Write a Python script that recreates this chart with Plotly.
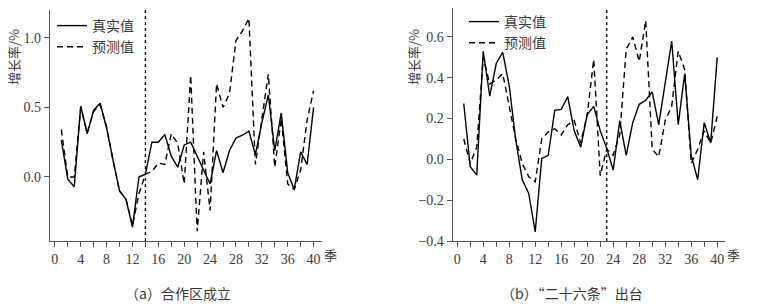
import plotly.graph_objects as go

quarters = list(range(1, 41))

true_a = [0.265, -0.015, -0.07, 0.51, 0.31, 0.48, 0.53, 0.35, 0.12, -0.10,
          -0.16, -0.36, 0.0, 0.02, 0.25, 0.25, 0.305, 0.15, 0.07, 0.23,
          0.25, 0.15, 0.05, -0.05, 0.19, 0.03, 0.19, 0.28, 0.30, 0.33,
          0.16, 0.39, 0.59, 0.19, 0.46, 0.03, -0.09, 0.18, 0.09, 0.50]
pred_a = [0.34, 0.0, 0.0, 0.50, 0.32, 0.47, 0.52, 0.36, 0.12, -0.10,
          -0.16, -0.35, -0.12, 0.02, 0.04, 0.10, 0.09, 0.31, 0.24, -0.05,
          0.73, -0.39, 0.18, -0.24, 0.67, 0.50, 0.60, 0.98, 1.05, 1.14,
          0.09, 0.41, 0.74, 0.07, 0.42, -0.05, -0.09, 0.05, 0.41, 0.62]

true_b = [0.274, -0.036, -0.077, 0.53, 0.31, 0.47, 0.525, 0.36, 0.095, -0.10,
          -0.167, -0.355, 0.005, 0.02, 0.24, 0.245, 0.307, 0.14, 0.06, 0.22,
          0.26, 0.14, 0.054, -0.052, 0.19, 0.02, 0.18, 0.27, 0.29, 0.33,
          0.17, 0.37, 0.58, 0.17, 0.42, 0.02, -0.10, 0.18, 0.08, 0.50]
pred_b = [0.10, -0.02, 0.06, 0.50, 0.37, 0.39, 0.42, 0.26, 0.10, -0.02,
          -0.085, -0.11, 0.10, 0.135, 0.15, 0.12, 0.17, 0.19, 0.08, 0.22,
          0.49, -0.08, 0.05, 0.02, 0.12, 0.54, 0.60, 0.48, 0.68, 0.05,
          0.013, 0.19, 0.26, 0.53, 0.44, -0.02, 0.05, 0.14, 0.08, 0.21]

event_a = 14
event_b = 23

x_tickvals = list(range(0, 41, 2))
x_ticktext = [str(v) if v % 4 == 0 else "" for v in x_tickvals]
ya_ticks = [0.0, 0.5, 1.0]
yb_ticks = [-0.4, -0.2, 0.0, 0.2, 0.4, 0.6]

series_names = ["真实值", "预测值"]
captions = ["（a）合作区成立", "（b）“二十六条”出台"]
y_title = "增长率/%"
x_unit = "季"

W, H = 760, 304
serif = "Liberation Serif, Times New Roman, serif"
cjk = "Noto Sans CJK SC, sans-serif"
txt = "#3a3a3a"

fig = go.Figure()
fig.add_trace(go.Scatter(x=quarters, y=true_a, mode="lines", name=series_names[0],
                         line=dict(color="black", width=1.4), xaxis="x", yaxis="y",
                         legend="legend"))
fig.add_trace(go.Scatter(x=quarters, y=pred_a, mode="lines", name=series_names[1],
                         line=dict(color="black", width=1.4, dash="6px,4px"),
                         xaxis="x", yaxis="y", legend="legend"))
fig.add_trace(go.Scatter(x=quarters, y=true_b, mode="lines", name=series_names[0],
                         line=dict(color="black", width=1.4), xaxis="x2", yaxis="y2",
                         legend="legend2"))
fig.add_trace(go.Scatter(x=quarters, y=pred_b, mode="lines", name=series_names[1],
                         line=dict(color="black", width=1.4, dash="6px,4px"),
                         xaxis="x2", yaxis="y2", legend="legend2"))

def px(v):
    return v / W

def py(v):
    return 1 - v / H

axis_common = dict(showgrid=False, zeroline=False, showline=True, linecolor="#555555",
                   linewidth=1.2, ticks="outside", ticklen=5, tickcolor="#555555",
                   tickwidth=1.2, automargin=False,
                   tickfont=dict(family=serif, size=14, color=txt))

fig.update_layout(
    width=W, height=H,
    margin=dict(l=0, r=0, t=0, b=0, autoexpand=False),
    paper_bgcolor="white", plot_bgcolor="white",
    xaxis=dict(domain=[px(50), px(322)], range=[-0.75, 41.3], anchor="y",
               tickvals=x_tickvals, ticktext=x_ticktext, **axis_common),
    yaxis=dict(domain=[py(241), py(10)], range=[-0.46, 1.2], anchor="x",
               tickvals=ya_ticks, tickformat=".1f", **axis_common),
    xaxis2=dict(domain=[px(452.7), px(725)], range=[-0.7, 41.2], anchor="y2",
                tickvals=x_tickvals, ticktext=x_ticktext, **axis_common),
    yaxis2=dict(domain=[py(241), py(8)], range=[-0.4, 0.742], anchor="x2",
                tickvals=yb_ticks, tickformat=".1f", **axis_common),
    legend=dict(x=px(52), y=py(10), xanchor="left", yanchor="top",
                bgcolor="rgba(0,0,0,0)", font=dict(family=cjk, size=14, color=txt),
                itemwidth=30, tracegroupgap=0),
    legend2=dict(x=px(464), y=py(6), xanchor="left", yanchor="top",
                 bgcolor="rgba(0,0,0,0)", font=dict(family=cjk, size=14, color=txt),
                 itemwidth=30, tracegroupgap=0),
    showlegend=True,
)

for xr, yr, ev in [("x", "y domain", event_a), ("x2", "y2 domain", event_b)]:
    fig.add_shape(type="line", xref=xr, yref=yr, x0=ev, x1=ev, y0=0, y1=1,
                  line=dict(color="black", width=1.3, dash="dot"))

for xpos in (13, 413):
    fig.add_annotation(text=y_title, xref="paper", yref="paper", x=px(xpos), y=py(57),
                       xanchor="center", yanchor="middle", showarrow=False, textangle=-90,
                       font=dict(family=cjk, size=13, color=txt))

fig.add_annotation(text=x_unit, xref="paper", yref="paper", x=px(322), y=py(254),
                   xanchor="left", yanchor="middle", showarrow=False,
                   font=dict(family=cjk, size=13, color=txt))
fig.add_annotation(text=x_unit, xref="paper", yref="paper", x=px(725), y=py(254),
                   xanchor="left", yanchor="middle", showarrow=False,
                   font=dict(family=cjk, size=13, color=txt))
fig.add_annotation(text=captions[0], xref="paper", yref="paper", x=px(178), y=py(293),
                   xanchor="center", yanchor="middle", showarrow=False,
                   font=dict(family=cjk, size=14, color=txt))
fig.add_annotation(text=captions[1], xref="paper", yref="paper", x=px(572), y=py(293),
                   xanchor="center", yanchor="middle", showarrow=False,
                   font=dict(family=cjk, size=14, color=txt))

fig.write_html("out.html", config={"displayModeBar": False},
               post_script="document.body.style.margin='0';document.body.style.overflow='hidden';")
